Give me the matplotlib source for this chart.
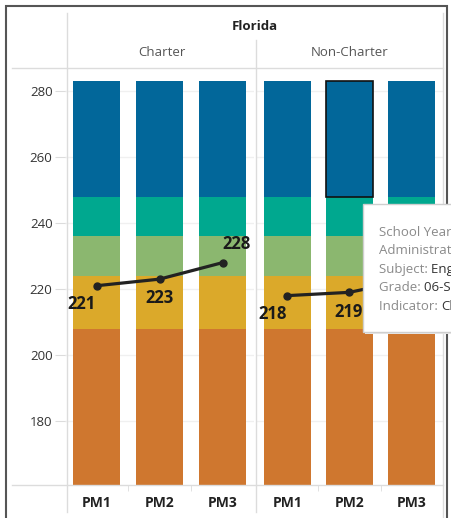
import matplotlib.pyplot as plt
from matplotlib.patches import Rectangle

plt.rcParams['font.family'] = ['Open Sans', 'DejaVu Sans']

W, H = 451, 518

state = 'Florida'
groups = ['Charter', 'Non-Charter']
periods = ['PM1', 'PM2', 'PM3']

# achievement level bands, same for every bar
band_edges = [160, 208, 224, 236, 248, 283]
band_colors = ['#CF772F', '#DBA92A', '#8BB76F', '#00A88F', '#02679A']

# mean scale score line
scores = {'Charter': [221, 223, 228], 'Non-Charter': [218, 219, 223]}
# label offsets (pixels) from each point
label_offsets = {'Charter': [(-15, -18), (0, -19), (14, 19)],
                 'Non-Charter': [(-15, -18), (-1, -20), (14, 19)]}
highlight = ('Non-Charter', 1)   # hovered bar

yticks = [180, 200, 220, 240, 260, 280]
ylim = (160.6, 287)

tooltip = [('School Year: ', '2022-23'), ('Administration: ', 'PM3'),
           ('Subject: ', 'English Language Arts'), ('Grade: ', '06-Sixth Grade'),
           ('Indicator: ', 'Charter')]

grid_c = '#f0f0f0'
line_c = '#dcdcdc'


def px(x0, y0, x1, y1):
    return [x0 / W, 1 - y1 / H, (x1 - x0) / W, (y1 - y0) / H]


fig = plt.figure(figsize=(W / 100, H / 100), dpi=100)
panels = [(67, 256), (256, 443)]
axes_x = [(65, 254), (256, 443)]

for i, g in enumerate(groups):
    ax = fig.add_axes(px(axes_x[i][0], 68, axes_x[i][1], 485))
    x = list(range(len(periods)))
    for k in range(len(band_colors)):
        lo, hi = band_edges[k], band_edges[k + 1]
        ax.bar(x, [hi - lo] * len(x), bottom=lo, width=0.75, color=band_colors[k],
               edgecolor='none', zorder=2)
        if g == highlight[0] and k == len(band_colors) - 1:
            ax.bar(highlight[1], hi - lo, bottom=lo, width=0.75, color=band_colors[k],
                   edgecolor='#111111', linewidth=1.2, zorder=3)
    ax.plot(x, scores[g], color='#222222', lw=2.3, marker='o', ms=5, zorder=5)
    for j, v in enumerate(scores[g]):
        ax.annotate(str(v), (x[j], v), xytext=label_offsets[g][j], textcoords='offset pixels',
                    ha='center', va='center', fontsize=12, fontweight='bold', color='#1a1a1a',
                    zorder=6)
    ax.set_xlim(-0.5, 2.5)
    ax.set_ylim(*ylim)
    ax.set_yticks(yticks)
    ax.yaxis.grid(True, color=grid_c, lw=1, zorder=0)
    ax.set_axisbelow(True)
    for s in ax.spines.values():
        s.set_visible(False)
    ax.set_xticks(x)
    ax.set_xticklabels(periods, fontsize=10, fontweight='bold', color='#222222')
    ax.set_xticks([0.5, 1.5], minor=True)
    ax.tick_params(axis='x', which='major', length=0, pad=8)
    ax.tick_params(axis='x', which='minor', length=4, color=line_c)
    if i == 0:
        ax.tick_params(axis='y', length=7, color=line_c, labelsize=9.5, labelcolor='#333333', pad=2)
    else:
        ax.tick_params(axis='y', length=0, labelleft=False)

# overlay for frame, headers and tooltip
ov = fig.add_axes([0, 0, 1, 1], zorder=10)
ov.set_xlim(0, W)
ov.set_ylim(H, 0)
ov.axis('off')
ov.patch.set_alpha(0)

for xx, y0 in [(67, 13), (256, 40), (443, 13)]:
    ov.plot([xx, xx], [y0, 512 if xx != 443 else H], color=line_c, lw=1)
for yy in [68, 485]:
    ov.plot([12, 443], [yy, yy], color=line_c, lw=1)

ov.text(255, 27, state, ha='center', va='center', fontsize=9.5, fontweight='bold', color='#222222')
for i, g in enumerate(groups):
    ov.text(sum(panels[i]) / 2, 53, g, ha='center', va='center', fontsize=9.5, color='#555555')

# outer frame
ov.plot([6, 6, 447, 447], [H, 6, 6, H], color='#555555', lw=1.5, solid_joinstyle='miter')

# hover tooltip
ov.add_patch(Rectangle((365, 206), 100, 128, facecolor='#e8e8e8', edgecolor='none', zorder=11))
ov.add_patch(Rectangle((363, 204), 100, 128, facecolor='white', edgecolor='#cfcfcf', lw=1, zorder=12))
for n, (key, val) in enumerate(tooltip):
    t = ov.text(379, 232 + n * 18.5, key, ha='left', va='center', fontsize=9.5, color='#8a8a8a', zorder=13)
    ov.annotate(val, xy=(1, 0.5), xycoords=t, ha='left', va='center', fontsize=9.5,
                color='#333333', zorder=13)

fig.savefig('out.png', dpi=100)
